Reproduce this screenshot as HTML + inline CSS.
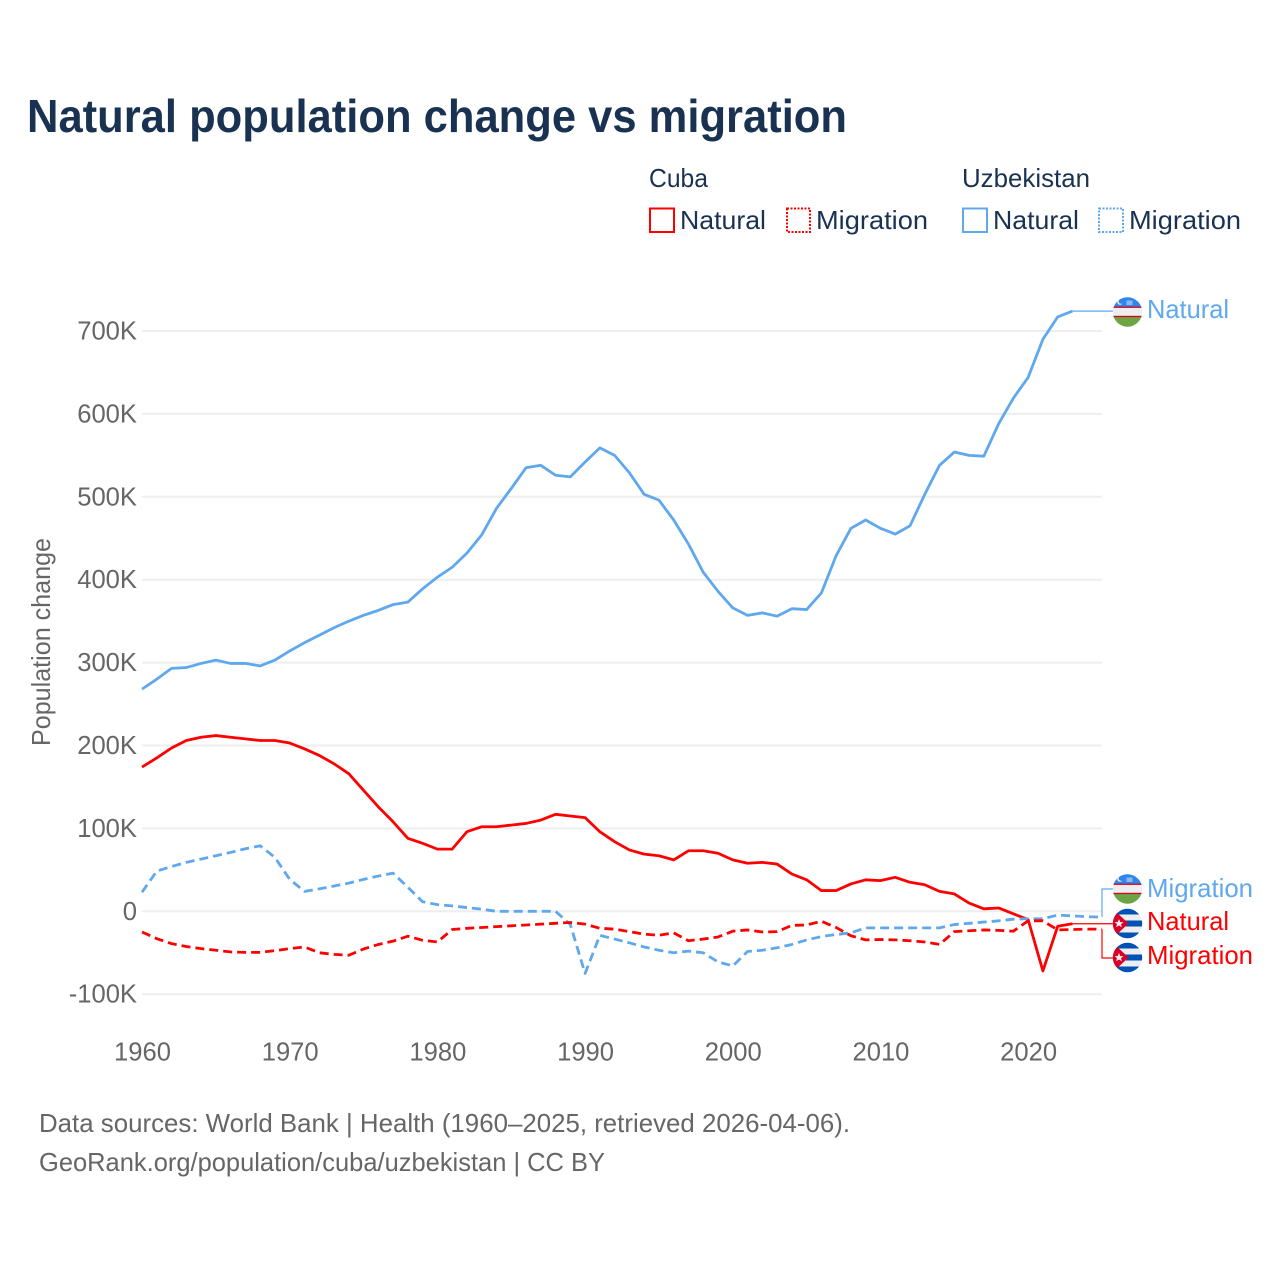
<!DOCTYPE html>
<html lang="en">
<head>
<meta charset="utf-8">
<title>Natural population change vs migration</title>
<style>
html,body{margin:0;padding:0;background:#fff;}
svg{display:block;}
text{font-family:"Liberation Sans",sans-serif;}
</style>
</head>
<body>
<svg id="chart" xmlns="http://www.w3.org/2000/svg" width="1280" height="1280" viewBox="0 0 1280 1280">
  <defs>
    <clipPath id="flag-clip"><circle cx="0" cy="0" r="14.7"/></clipPath>
    <g id="uz-flag" clip-path="url(#flag-clip)">
      <rect x="-15" y="-15" width="30" height="30" fill="#eeeeee"/>
      <rect x="-15" y="-15" width="30" height="10" fill="#2f85ea"/>
      <rect x="-15" y="5" width="30" height="10" fill="#6da544"/>
      <rect x="-15" y="-5.4" width="30" height="1.3" fill="#d80027"/>
      <rect x="-15" y="3.8" width="30" height="1.3" fill="#d80027"/>
      <circle cx="-7.5" cy="-10" r="2.8" fill="#eeeeee"/>
      <circle cx="-6.4" cy="-10.6" r="2.5" fill="#2f85ea"/>
      <rect x="-1" y="-11.5" width="6" height="4.5" fill="#8db9ef"/>
    </g>
    <g id="cu-flag" clip-path="url(#flag-clip)">
      <rect x="-15" y="-15" width="30" height="30" fill="#eeeeee"/>
      <rect x="-15" y="-15" width="30" height="6" fill="#0052b4"/>
      <rect x="-15" y="-3" width="30" height="6" fill="#0052b4"/>
      <rect x="-15" y="9" width="30" height="6" fill="#0052b4"/>
      <polygon points="-15,-15 -15,15 1,0" fill="#d80027"/>
      <polygon points="-8.5,-4.5 -7.2,-1.4 -4,-1.4 -6.5,0.6 -5.6,3.8 -8.5,2 -11.4,3.8 -10.5,0.6 -13,-1.4 -9.8,-1.4" fill="#eeeeee"/>
    </g>
  </defs>

  <rect x="0" y="0" width="1280" height="1280" fill="#ffffff"/>

  <text x="27" y="132" font-size="46" font-weight="700" fill="#1a3252" textLength="820" lengthAdjust="spacingAndGlyphs">Natural population change vs migration</text>

  <g font-size="26" fill="#1a3252">
    <text x="649" y="187" textLength="59" lengthAdjust="spacingAndGlyphs">Cuba</text>
    <text x="962" y="187" textLength="128" lengthAdjust="spacingAndGlyphs">Uzbekistan</text>
    <rect x="650" y="208.5" width="24" height="23.5" fill="none" stroke="#ff0000" stroke-width="2"/>
    <text x="680" y="229" textLength="86" lengthAdjust="spacingAndGlyphs">Natural</text>
    <rect x="787" y="208.5" width="23" height="23.5" fill="none" stroke="#ff0000" stroke-width="2" stroke-dasharray="2 1.5"/>
    <text x="816" y="229" textLength="112" lengthAdjust="spacingAndGlyphs">Migration</text>
    <rect x="963" y="208.5" width="24" height="23.5" fill="none" stroke="#5fa8ee" stroke-width="2"/>
    <text x="993" y="229" textLength="86" lengthAdjust="spacingAndGlyphs">Natural</text>
    <rect x="1099" y="208.5" width="24" height="23.5" fill="none" stroke="#5fa8ee" stroke-width="2" stroke-dasharray="2 1.5"/>
    <text x="1129" y="229" textLength="112" lengthAdjust="spacingAndGlyphs">Migration</text>
  </g>

  <g id="grid"></g>
  <g id="y-ticks"></g>
  <g id="x-ticks"></g>

  <text transform="translate(50,746) rotate(-90)" font-size="26" fill="#666666" textLength="208" lengthAdjust="spacingAndGlyphs">Population change</text>

  <g id="series"></g>

  <g font-size="26">
    <use href="#uz-flag" x="1127.5" y="312"/>
    <text x="1147" y="318" fill="#5fa8ee" textLength="82" lengthAdjust="spacingAndGlyphs">Natural</text>
    <use href="#uz-flag" x="1127.5" y="889"/>
    <text x="1147" y="897" fill="#5fa8ee" textLength="106" lengthAdjust="spacingAndGlyphs">Migration</text>
    <use href="#cu-flag" x="1127.5" y="923.5"/>
    <text x="1147" y="930" fill="#ff0000" textLength="82" lengthAdjust="spacingAndGlyphs">Natural</text>
    <use href="#cu-flag" x="1127.5" y="957.5"/>
    <text x="1147" y="964" fill="#ff0000" textLength="106" lengthAdjust="spacingAndGlyphs">Migration</text>
  </g>

  <g font-size="26" fill="#666666">
    <text x="39" y="1132" textLength="811" lengthAdjust="spacingAndGlyphs">Data sources: World Bank | Health (1960–2025, retrieved 2026-04-06).</text>
    <text x="39" y="1171" textLength="566" lengthAdjust="spacingAndGlyphs">GeoRank.org/population/cuba/uzbekistan | CC BY</text>
  </g>
</svg>
<script>
const years = [1960,1961,1962,1963,1964,1965,1966,1967,1968,1969,1970,1971,1972,1973,1974,1975,1976,1977,1978,1979,1980,1981,1982,1983,1984,1985,1986,1987,1988,1989,1990,1991,1992,1993,1994,1995,1996,1997,1998,1999,2000,2001,2002,2003,2004,2005,2006,2007,2008,2009,2010,2011,2012,2013,2014,2015,2016,2017,2018,2019,2020,2021,2022,2023,2024,2025];
const uzbekistanNatural = [268,280,293,294,299,303,299,299,296,303,314,324,333,342,350,357,363,370,373,389,403,415,432,454,486,510,535,538,526,524,542,559,550,529,503,496,472,443,409,386,366,357,360,356,365,364,384,429,462,472,462,455,465,503,538,554,550,549,588,619,644,690,717,724];
const uzbekistanMigration = [23,48.5,54,59,63,67,71,75.5,79,65,38.5,24,27,30.5,34,38.5,42.5,46,29,11.5,8,6.5,4.5,2.5,0,0,0,0,0,-16,-75,-29,-33.5,-38,-43,-47,-50,-48,-50,-61,-66,-48.5,-47,-44,-40,-34.5,-30.5,-28,-26,-20,-20,-20,-20,-20,-20,-16,-14.5,-13,-11.5,-9.5,-9,-9,-4.5,-5.5,-6.5,-7];
const cubaNatural = [174,185,197,206,210,212,210,208,206,206,203,196,188,178,166,146,126,108,88,82,75,75,96,102,102,104,106,110,117,115,113,96,84,74,69,67,62,73,73,70,62,58,59,57,45,38,25,25,33,38,37,41,35,32,24,21,10,3,4,-3,-10,-72,-18,-15];
const cubaMigration = [-25,-33,-39,-42.5,-45,-47,-49,-49.5,-49.5,-47.5,-45,-43,-50,-52,-53,-45.5,-40,-36,-30,-35,-37,-22,-20.5,-19.5,-18.5,-17.5,-16.5,-15.5,-14.5,-13.5,-15.5,-20.5,-21.5,-24.5,-27.5,-29,-26,-35.5,-33.5,-31,-24,-22.5,-25,-24.5,-17,-16.5,-12,-19.5,-29.5,-34.5,-34,-34.5,-35.5,-37,-40,-24.5,-23.5,-22.5,-23,-24,-11.5,-11.5,-22.5,-22,-21.5,-21.5];
const yTickValues = [-100,0,100,200,300,400,500,600,700];
const yTickLabels = ["-100K","0","100K","200K","300K","400K","500K","600K","700K"];
const xTickValues = [1960,1970,1980,1990,2000,2010,2020];
const xTickLabels = ["1960","1970","1980","1990","2000","2010","2020"];

const NS = "http://www.w3.org/2000/svg";
const blue = "#5fa8ee";
const red = "#ff0000";
const x = function (year) { return 142 + (year - 1960) * (960 / 65); };
const y = function (value) { return 911.3 - value * 0.829; };

const gridLayer = document.getElementById("grid");
const yLayer = document.getElementById("y-ticks");
const xLayer = document.getElementById("x-ticks");
const seriesLayer = document.getElementById("series");

yTickValues.forEach(function (value, i) {
  const line = document.createElementNS(NS, "line");
  
  
  line.setAttribute("x1", 142);
  line.setAttribute("x2", 1102);
  line.setAttribute("y1", y(value));
  line.setAttribute("y2", y(value));
  line.setAttribute("stroke", "#eeeeee");
  line.setAttribute("stroke-width", 2);
  gridLayer.appendChild(line);

  const label = document.createElementNS(NS, "text");
  
  
  label.setAttribute("x", 137);
  label.setAttribute("y", y(value) + 8.5);
  label.setAttribute("text-anchor", "end");
  label.setAttribute("font-size", 25.6);
  label.setAttribute("fill", "#666666");
  label.textContent = yTickLabels[i];
  yLayer.appendChild(label);
});

xTickValues.forEach(function (value, i) {
  const label = document.createElementNS(NS, "text");
  
  
  label.setAttribute("x", x(value) + 0.5);
  label.setAttribute("y", 1060.5);
  label.setAttribute("text-anchor", "middle");
  label.setAttribute("font-size", 25.6);
  label.setAttribute("fill", "#666666");
  label.textContent = xTickLabels[i];
  xLayer.appendChild(label);
});

function pathFor(values) {
  return values.map(function (value, i) {
    return (i ? "L" : "M") + x(years[i]).toFixed(2) + " " + y(value).toFixed(2);
  }).join(" ");
}

function drawSeries(values, color, dashed, name) {
  const path = document.createElementNS(NS, "path");
  
  
  path.setAttribute("d", pathFor(values));
  path.setAttribute("fill", "none");
  path.setAttribute("stroke", color);
  path.setAttribute("stroke-width", 2.8);
  path.setAttribute("stroke-linejoin", "round");
  if (dashed) { path.setAttribute("stroke-dasharray", "9 5"); }
  seriesLayer.appendChild(path);
}

function drawLeader(values, color, flagY, name) {
  const last = values.length - 1;
  const sx = x(years[last]);
  const sy = y(values[last]);
  const elbow = Math.max(sx, 1102);
  const leader = document.createElementNS(NS, "path");
  
  
  leader.setAttribute("d", "M" + sx + " " + sy + " L" + elbow + " " + sy + " L" + elbow + " " + flagY + " L1113 " + flagY);
  leader.setAttribute("fill", "none");
  leader.setAttribute("stroke", color);
  leader.setAttribute("stroke-width", 1.2);
  seriesLayer.appendChild(leader);
}

drawLeader(uzbekistanNatural, blue, y(uzbekistanNatural[uzbekistanNatural.length - 1]), 'leader-uzbekistan-natural');
drawLeader(uzbekistanMigration, blue, 889, 'leader-uzbekistan-migration');
drawLeader(cubaNatural, red, y(cubaNatural[cubaNatural.length - 1]), 'leader-cuba-natural');
drawLeader(cubaMigration, red, 958, 'leader-cuba-migration');
drawSeries(uzbekistanNatural, blue, false, 'line-uzbekistan-natural');
drawSeries(cubaNatural, red, false, 'line-cuba-natural');
drawSeries(uzbekistanMigration, blue, true, 'line-uzbekistan-migration');
drawSeries(cubaMigration, red, true, 'line-cuba-migration');
</script>
</body>
</html>
